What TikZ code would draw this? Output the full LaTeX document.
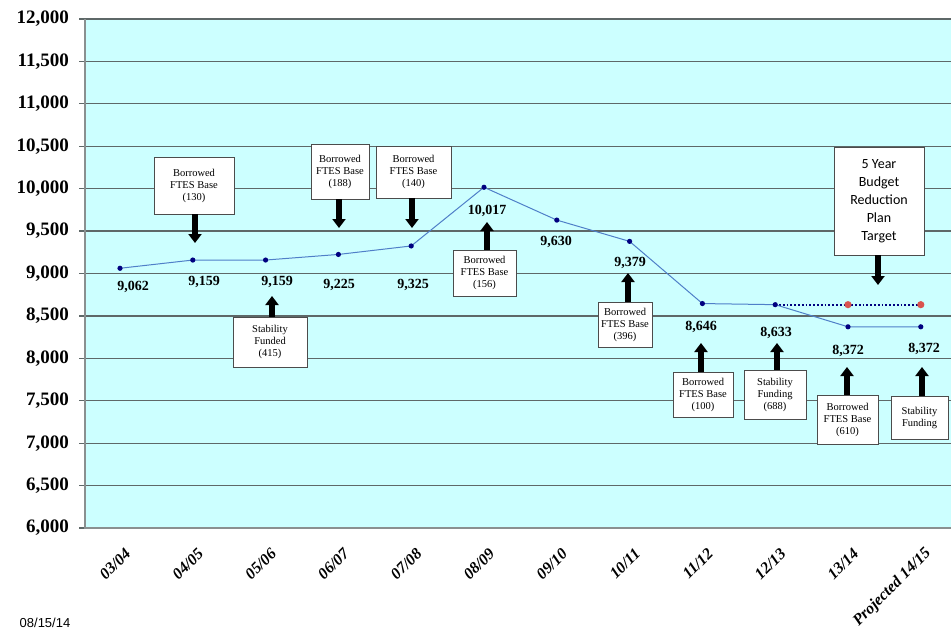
\documentclass[tikz,border=0pt]{standalone}
\usepackage{fontspec}
\setmainfont{Liberation Serif}
\setsansfont{Liberation Sans}
\newfontfamily\calibri{Carlito}
\definecolor{PlotCyan}{HTML}{CCFFFF}
\definecolor{GridGray}{HTML}{5E6868}
\definecolor{AxisGray}{HTML}{8A9090}
\definecolor{LineBlue}{HTML}{4F7FC8}
\definecolor{DotNavy}{HTML}{000080}
\definecolor{TargetRed}{HTML}{D9534F}
\usetikzlibrary{arrows.meta}
\tikzset{
  note/.style={draw=black!70, line width=0.8pt, fill=white, align=center, inner sep=1pt,
               font=\fontsize{10.5}{12}\selectfont},
  fatarrow/.style={line width=5.5pt, -{Triangle[width=13pt,length=9pt]}},
  vallabel/.style={font=\fontsize{14}{16}\selectfont\bfseries},
}

\begin{document}
\begin{tikzpicture}[x=1pt,y=-1pt]
    \useasboundingbox (0,0) rectangle (951,642);
    % plot area and grid
    \fill[PlotCyan] (85,19) rectangle (951,528);
    \foreach \t [count=\k from 0] in {12{,}000,11{,}500,11{,}000,10{,}500,10{,}000,9{,}500,9{,}000,8{,}500,8{,}000,7{,}500,7{,}000,6{,}500,6{,}000} {
      \pgfmathsetmacro\gy{19+42.42*\k}
      \draw[GridGray, line width=1.3pt] (79,\gy) -- (951,\gy);
      \node[anchor=east, inner sep=0pt, font=\fontsize{19}{21}\selectfont\bfseries] (ylab\k) at (69,\gy) {\t};
    }
    \draw[AxisGray, line width=1.3pt] (85,19) -- (85,528) -- (951,528);

    % data
    \foreach \v [count=\i from 0] in {9062,9159,9159,9225,9325,10017,9630,9379,8646,8633,8372,8372} {
      \pgfmathsetmacro\px{120+72.8*\i}
      \pgfmathsetmacro\py{528-0.08483*(\v-6000)}
      \coordinate (p\i) at (\px,\py);
    }
    \coordinate (t10) at (p10 |- p9);
    \coordinate (t11) at (p11 |- p9);
    \draw[DotNavy, dotted, line width=1.8pt] (p9) -- (t11);
    \draw[LineBlue, line width=1pt] (p0) \foreach \i in {1,...,11} {-- (p\i)};
    \foreach \i in {0,...,11} \fill[DotNavy] (p\i) circle[radius=2.6pt];
    \fill[TargetRed] (t10) circle[radius=3.6pt] (t11) circle[radius=3.6pt];

    % values
    \foreach \x/\y/\t [count=\n] in {133/287/9{,}062, 204/282/9{,}159, 277/282/9{,}159, 339/285/9{,}225,
        413/285/9{,}325, 487/211/10{,}017, 556/242/9{,}630, 630/263/9{,}379, 701/327/8{,}646,
        776/333/8{,}633, 848/351/8{,}372, 924/349/8{,}372}
      \node[vallabel] (val\n) at (\x,\y) {\t};

    % notes
    \node[note, minimum width=80pt, minimum height=57pt] (bfb130) at (194,185.5) {Borrowed\\FTES Base\\(130)};
    \node[note, minimum width=58pt, minimum height=55pt] (bfb188) at (340,171.5) {Borrowed\\FTES Base\\(188)};
    \node[note, minimum width=75pt, minimum height=52pt] (bfb140) at (413.5,172) {Borrowed\\FTES Base\\(140)};
    \node[note, minimum width=74pt, minimum height=50pt] (sf415) at (270,342) {Stability\\Funded\\(415)};
    \node[note, minimum width=63pt, minimum height=46pt] (bfb156) at (484.5,273) {Borrowed\\FTES Base\\(156)};
    \node[note, minimum width=54pt, minimum height=45pt] (bfb396) at (625,324.5) {Borrowed\\FTES Base\\(396)};
    \node[note, minimum width=60pt, minimum height=45pt] (bfb100) at (703,394.5) {Borrowed\\FTES Base\\(100)};
    \node[note, minimum width=62pt, minimum height=49pt] (sf688) at (775,394.5) {Stability\\Funding\\(688)};
    \node[note, minimum width=61pt, minimum height=49pt] (bfb610) at (847.5,419.5) {Borrowed\\FTES Base\\(610)};
    \node[note, minimum width=57pt, minimum height=43pt] (sfproj) at (919.5,417.5) {Stability\\Funding};
    \node[note, font=\calibri\fontsize{14}{18}\selectfont, minimum width=90pt, minimum height=108pt] (plan) at (879,201)
      {5 Year\\Budget\\Reduction\\Plan\\Target};

    % arrows
    \coordinate (a130) at (195,243);
    \coordinate (a188) at (339,228);
    \coordinate (a140) at (412,228);
    \coordinate (a415) at (272,296);
    \coordinate (a156) at (487,222);
    \coordinate (a396) at (628,273);
    \coordinate (a100) at (701,343);
    \coordinate (a688) at (777,343);
    \coordinate (a610) at (847,367);
    \coordinate (aproj) at (922,367);
    \coordinate (aplan) at (878,285);
    \draw[fatarrow] (bfb130.south -| a130) -- (a130);
    \draw[fatarrow] (bfb188.south -| a188) -- (a188);
    \draw[fatarrow] (bfb140.south -| a140) -- (a140);
    \draw[fatarrow] (sf415.north -| a415) -- (a415);
    \draw[fatarrow] (bfb156.north -| a156) -- (a156);
    \draw[fatarrow] (bfb396.north -| a396) -- (a396);
    \draw[fatarrow] (bfb100.north -| a100) -- (a100);
    \draw[fatarrow] (sf688.north -| a688) -- (a688);
    \draw[fatarrow] (bfb610.north -| a610) -- (a610);
    \draw[fatarrow] (sfproj.north -| aproj) -- (aproj);
    \draw[fatarrow] (plan.south -| aplan) -- (aplan);

    % categories
    \foreach \t [count=\i from 0] in {03/04,04/05,05/06,06/07,07/08,08/09,09/10,10/11,11/12,12/13,13/14,Projected 14/15}
      \node[rotate=45, anchor=east, inner sep=0pt, font=\fontsize{16}{18}\selectfont\bfseries\itshape] (cat\i)
        at ({128+72.8*\i},551) {\t};

    \node[font=\sffamily\fontsize{13}{15}\selectfont] (stamp) at (45,623) {08/15/14};
\end{tikzpicture}
\end{document}
